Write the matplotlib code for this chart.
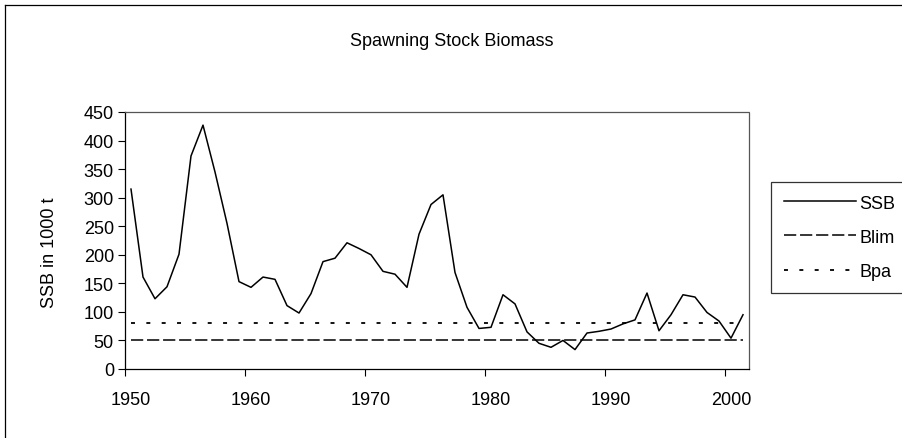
import matplotlib.pyplot as plt
from matplotlib.lines import Line2D

plt.rcParams['font.family'] = ['Liberation Sans', 'DejaVu Sans']

years = list(range(1950, 2002))
ssb = [315, 161, 123, 144, 201, 373, 427, 345, 255, 153,
       143, 161, 157, 111, 98, 132, 188, 194, 221, 211,
       200, 171, 166, 143, 236, 288, 305, 169, 108, 71,
       73, 130, 114, 65, 45, 38, 50, 34, 63, 66,
       70, 79, 86, 133, 67, 95, 130, 126, 99, 84,
       54, 95]
blim = 50
bpa = 80
title = "Spawning Stock Biomass"
ylabel = "SSB in 1000 t"
xlabels = [1950, 1960, 1970, 1980, 1990, 2000]
yticks = list(range(0, 451, 50))

W, H = 903, 439
fs = 13
fig = plt.figure(figsize=(W / 100, H / 100), dpi=100, facecolor="white")
ax = fig.add_axes([125 / W, 1 - 370 / H, 624 / W, 257 / H])

ax.plot(years, ssb, color="black", lw=1.1, label="SSB")
ax.plot(years, [blim] * len(years), color="black", lw=1.1,
        dashes=(8, 2.5), label="Blim")
ax.plot(years, [bpa] * len(years), color="black", lw=1.3,
        dashes=(2.2, 6.3), label="Bpa")

ax.set_xlim(1949.5, 2001.5)
ax.set_ylim(0, 450)

# category-style axis: labels centred on years, marks between them
ax.set_xticks(xlabels)
ax.set_xticklabels([str(y) for y in xlabels])
ax.set_xticks([y - 0.5 for y in xlabels], minor=True)
ax.tick_params(axis="x", which="major", length=0, pad=16, labelsize=fs)
ax.tick_params(axis="x", which="minor", length=5, direction="out", width=0.8)
ax.set_yticks(yticks)
ax.tick_params(axis="y", length=5, direction="out", width=0.8, labelsize=fs, pad=3)

for s in ("left", "bottom"):
    ax.spines[s].set_color("black")
    ax.spines[s].set_linewidth(0.9)
for s in ("top", "right"):
    ax.spines[s].set_color("#555555")
    ax.spines[s].set_linewidth(0.9)
    ax.spines[s].set_linestyle((0, (1, 1)))

ax.set_ylabel(ylabel, fontsize=fs)
ax.yaxis.set_label_coords(-0.108, 0.455)
fig.text(0.5, 1 - 42 / H, title, ha="center", va="center", fontsize=fs)

leg = ax.legend(loc="upper left", bbox_to_anchor=(771 / W, 1 - 183 / H),
                bbox_transform=fig.transFigure, frameon=True, fancybox=False,
                edgecolor="black", fontsize=fs, handlelength=4.0,
                handletextpad=0.2, labelspacing=0.95, borderpad=0.7,
                borderaxespad=0)
leg.get_frame().set_linewidth(0.9)

# outer chart border (left and top edges visible)
fig.add_artist(Line2D([5 / W, 5 / W], [0, 1 - 6 / H], color="black", lw=0.9,
                      transform=fig.transFigure))
fig.add_artist(Line2D([5 / W, 1], [1 - 6 / H, 1 - 6 / H], color="black", lw=0.9,
                      transform=fig.transFigure))

fig.savefig("out.png", dpi=100, facecolor="white")
